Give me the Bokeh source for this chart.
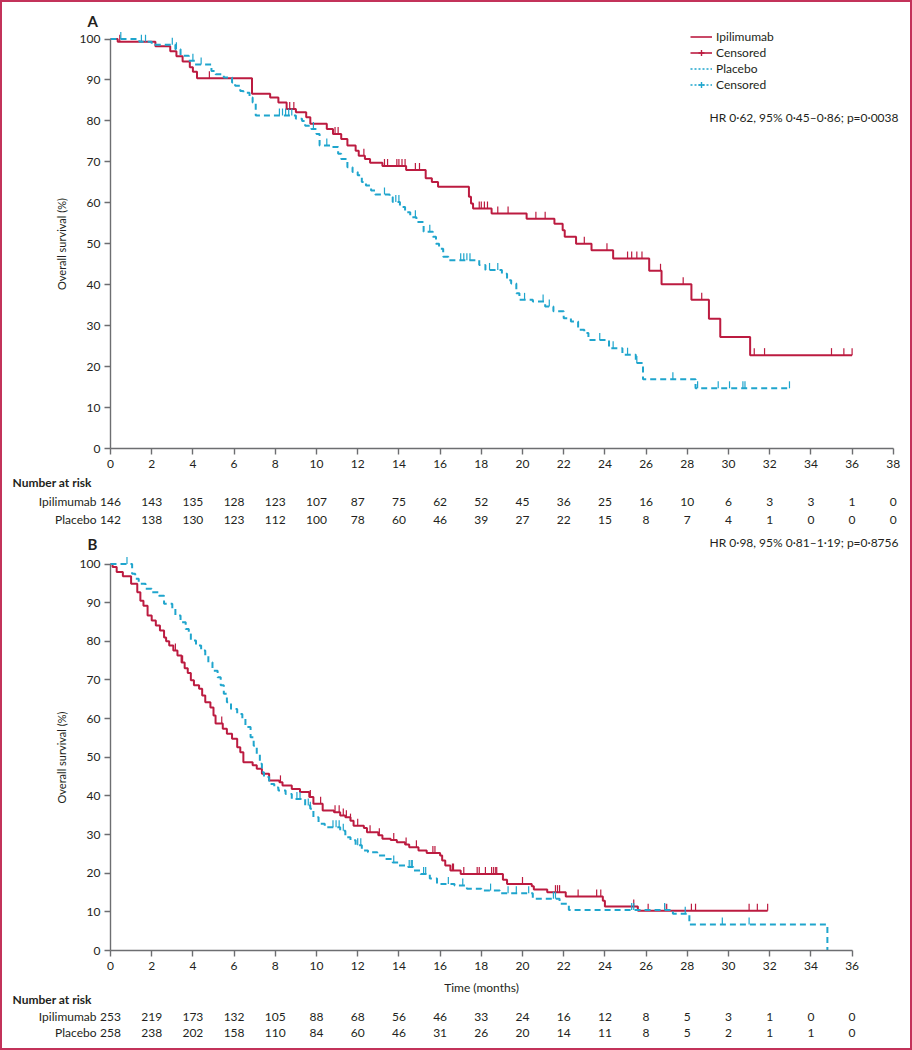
import numpy as np
from bokeh.plotting import figure
from bokeh.models import (Range1d, FixedTicker, Label, LabelSet, ColumnDataSource,
                          Legend, LegendItem)
from bokeh.layouts import column
from bokeh.embed import file_html
from bokeh.resources import INLINE
from bokeh.core.properties import value

# ---------------- Panel A data ----------------
a_ipi_t = [0, 0.35, 2.18, 2.9, 3.2, 3.5, 3.85, 4.0, 4.2, 6.87, 7.75, 8.15, 8.55, 9.0, 9.5, 9.7,
           10.5, 10.8, 11.2, 11.5, 11.9, 12.05, 12.35, 12.6, 13.2, 14.35, 15.3, 15.6, 15.9,
           17.4, 17.5, 17.6, 18.5, 20.2, 21.55, 21.95, 22.05, 22.6, 23.35, 24.4,
           26.15, 26.75, 28.2, 29.05, 29.6, 31.05]
a_ipi_s = [100, 99.3, 98.2, 97.0, 95.8, 94.5, 93.1, 92.0, 90.4, 86.6, 85.7, 84.5, 82.9, 82.1, 80.9, 79.3,
           78.0, 76.8, 75.6, 74.0, 72.7, 71.5, 70.7, 69.8, 69.0, 68.0, 66.0, 65.1, 63.9,
           61.5, 59.8, 58.6, 57.4, 56.1, 54.9, 53.3, 51.7, 50.0, 48.4, 46.4,
           43.4, 40.1, 36.3, 31.7, 27.2, 22.8]
a_ipi_cens = [0.45, 4.8, 8.7, 8.9, 10.9, 11.05, 12.3, 13.3, 13.45, 13.9, 14.0, 14.15, 14.3, 14.8,
              15.0, 17.9, 18.0, 18.15, 18.3, 18.8, 19.3, 20.65, 21.1, 23.0, 24.1, 25.1, 25.3,
              25.55, 25.8, 26.7, 27.8, 28.7, 31.25, 31.75, 35.0, 35.6, 36.0]
a_ipi_end = 36.0

a_pla_t = [0, 1.4, 2.0, 3.15, 3.4, 3.8, 4.1, 4.9, 5.1, 5.5, 5.9, 6.05, 6.3, 6.45, 6.75, 6.9, 7.05,
           9.0, 9.3, 9.45, 9.75, 10.0, 10.15, 10.8, 11.05, 11.2, 11.5, 11.75, 12.0, 12.2, 12.4,
           12.65, 12.85, 13.55, 13.7, 14.05, 14.3, 14.55, 14.85, 15.2, 15.65, 15.8, 15.95,
           16.15, 16.4, 17.9, 18.2, 19.0, 19.25, 19.45, 19.7, 19.85, 20.5, 21.1, 21.5, 22.0,
           22.35, 22.7, 23.0, 23.2, 24.2, 24.85, 25.5, 25.85, 28.4]
a_pla_s = [100, 99.3, 98.6, 97.5, 95.9, 94.7, 93.8, 92.2, 91.4, 90.6, 89.4, 88.6, 87.3, 86.9, 85.7,
           84.5, 81.3, 80.5, 80.0, 78.8, 78.0, 76.8, 74.0, 73.6, 72.0, 70.7, 68.7, 67.5, 66.7,
           65.1, 64.2, 63.0, 62.0, 61.4, 60.2, 59.0, 57.7, 56.5, 55.3, 52.9, 51.7, 50.0, 48.8,
           46.8, 46.0, 44.8, 43.6, 42.7, 41.1, 40.3, 37.9, 36.3, 35.9, 34.7, 33.5, 31.8, 31.0,
           29.0, 28.2, 26.5, 24.5, 22.9, 20.9, 16.9, 14.7]
a_pla_cens = [0.5, 1.5, 1.7, 3.0, 3.2, 4.0, 4.4, 8.2, 8.35, 8.5, 8.65, 8.8, 9.85, 10.5, 13.3,
              13.85, 14.0, 14.8, 15.5, 17.0, 17.15, 17.3, 17.45, 18.4, 18.8, 20.1, 21.0, 21.3,
              23.75, 24.4, 25.1, 25.55, 27.3, 28.5, 29.5, 30.05, 30.7, 30.8, 32.96]
a_pla_end = 32.96

risk_a_t = list(range(0, 39, 2))
risk_a_ipi = [146, 143, 135, 128, 123, 107, 87, 75, 62, 52, 45, 36, 25, 16, 10, 6, 3, 3, 1, 0]
risk_a_pla = [142, 138, 130, 123, 112, 100, 78, 60, 46, 39, 27, 22, 15, 8, 7, 4, 1, 0, 0, 0]

# ---------------- Panel B data ----------------
b_ipi_t = [0, 0.1, 0.3, 0.6, 1.0, 1.3, 1.45, 1.6, 1.8, 2.0, 2.2, 2.4, 2.6, 2.7, 2.85, 3.05, 3.25,
           3.45, 3.6, 3.75, 3.9, 4.05, 4.3, 4.45, 4.6, 4.85, 5.0, 5.1, 5.45, 5.65, 5.9, 6.15,
           6.3, 6.45, 6.9, 7.1, 7.35, 7.7, 8.2, 8.35, 8.8, 9.2, 9.65, 9.85, 10.3, 10.85, 11.15,
           11.4, 11.65, 11.8, 12.3, 12.45, 13.0, 13.2, 13.6, 13.9, 14.3, 14.5, 14.95, 15.35,
           16.0, 16.1, 16.25, 16.5, 17.0, 19.05, 19.25, 20.45, 20.55, 21.2, 22.1, 23.9, 24.0, 25.6]
b_ipi_s = [100, 99.2, 97.9, 96.8, 94.9, 92.7, 90.5, 89.2, 86.7, 85.4, 84.1, 82.8, 81.0, 80.0, 78.9,
           77.6, 76.3, 74.5, 73.0, 71.8, 69.9, 68.6, 67.7, 66.0, 64.2, 62.9, 60.8, 58.7, 57.4,
           56.1, 54.8, 52.6, 51.3, 48.7, 47.9, 47.0, 45.7, 44.0, 43.5, 42.7, 41.8, 41.0, 39.7,
           38.0, 36.2, 35.8, 34.9, 34.5, 33.6, 32.3, 31.7, 30.6, 29.8, 28.9, 28.6, 28.0, 27.4,
           26.7, 25.9, 25.2, 24.6, 23.3, 22.0, 20.7, 19.8, 18.3, 17.2, 16.6, 15.8, 15.1, 14.0,
           12.9, 11.4, 10.3]
b_ipi_cens = [3.15, 3.5, 5.4, 8.25, 9.7, 10.2, 10.9, 11.1, 11.3, 11.45, 11.65, 12.0, 12.6, 13.05,
              13.75, 14.35, 14.85, 15.65, 15.75, 16.6, 16.65, 17.15, 17.8, 17.9, 18.2, 18.5, 18.6,
              18.7, 18.75, 20.0, 21.6, 21.7, 21.8, 22.7, 23.6, 23.8, 25.4, 26.1, 26.9, 27.0, 28.2,
              28.4, 31.0, 31.4, 31.9]
b_ipi_end = 31.9

b_pla_t = [0, 1.05, 1.2, 1.37, 1.7, 2.0, 2.35, 2.6, 3.0, 3.15, 3.4, 3.65, 3.8, 3.9, 4.15, 4.4, 4.6,
           4.75, 4.95, 5.2, 5.35, 5.5, 5.65, 5.85, 6.15, 6.4, 6.55, 6.8, 6.95, 7.1, 7.25, 7.35,
           7.45, 7.7, 7.95, 8.15, 8.5, 8.8, 9.45, 9.7, 9.85, 10.1, 10.4, 11.15, 11.4, 11.65,
           11.9, 12.2, 12.5, 12.95, 13.35, 13.7, 14.0, 14.45, 14.7, 15.05, 15.5, 15.85, 16.7,
           17.3, 18.0, 18.9, 20.5, 21.8, 22.25, 27.3, 28.1, 34.8]
b_pla_s = [100, 97.5, 96.2, 94.9, 93.6, 92.7, 91.8, 89.7, 88.4, 86.7, 84.9, 83.2, 81.9, 80.2, 78.9,
           77.6, 76.3, 74.6, 72.4, 70.7, 68.6, 66.4, 64.2, 62.5, 61.2, 59.9, 57.8, 55.2, 53.0,
           50.9, 48.3, 46.1, 44.9, 43.1, 42.2, 41.4, 40.5, 39.2, 37.5, 36.7, 34.5, 32.8, 31.9,
           31.0, 29.3, 28.5, 27.2, 25.9, 25.4, 24.6, 23.7, 22.8, 22.0, 21.6, 20.7, 19.8, 18.6,
           17.2, 16.8, 16.0, 15.5, 14.8, 13.4, 12.1, 10.5, 9.5, 6.7, 0]
b_pla_cens = [0.8, 9.05, 9.2, 9.6, 9.7, 10.8, 10.95, 11.1, 11.3, 12.0, 12.15, 13.75, 14.5, 14.6,
              14.65, 15.2, 15.3, 16.4, 17.1, 18.45, 19.3, 19.7, 20.3, 21.5, 21.6, 25.3, 25.4,
              26.9, 27.9, 29.7, 31.0]
b_pla_end = 34.8

risk_b_t = list(range(0, 37, 2))
risk_b_ipi = [253, 219, 173, 132, 105, 88, 68, 56, 46, 33, 24, 16, 12, 8, 5, 3, 1, 0, 0]
risk_b_pla = [258, 238, 202, 158, 110, 84, 60, 46, 31, 26, 20, 14, 11, 8, 5, 2, 1, 1, 0]

arm_names = ["Ipilimumab", "Placebo"]
hr_a = "HR 0·62, 95% 0·45–0·86; p=0·0038"
hr_b = "HR 0·98, 95% 0·81–1·19; p=0·8756"

# ---------------- styling / layout ----------------
RED = "#bc1b40"
CYAN = "#1fa5cd"
TXT = "#231f20"
AX = "#6d6e71"
FONT = "Lato"
CDASH = "6 4"
FIG_W = 908
X0_PX = 108      # pixel of t = 0 inside each figure
PX_PER_T = 20.6  # pixels per month


def surv_at(ts, ss, tq):
    ts = np.asarray(ts, dtype=float)
    ss = np.asarray(ss, dtype=float)
    idx = np.searchsorted(ts, np.asarray(tq, dtype=float), side="right") - 1
    return ss[idx]


def txt(p, x, y, text, align="left", size="12px", style="normal"):
    p.add_layout(Label(x=x, y=y, x_units="screen", y_units="screen", text=text,
                       text_font=FONT, text_font_size=size, text_font_style=style,
                       text_color=TXT, text_baseline="middle", text_align=align))


def make_panel(height, top100, bottom0, tmax, curves, risk_t, risk_rows, letter, hr,
               xlabel, legend, rows_y, nar_y):
    ppp = (bottom0 - top100) / 100.0
    yr = Range1d(-(height - bottom0) / ppp, 100 + top100 / ppp)
    xr = Range1d(-X0_PX / PX_PER_T, (FIG_W - X0_PX) / PX_PER_T)
    p = figure(width=FIG_W, height=height, x_range=xr, y_range=yr,
               output_backend="svg", toolbar_location=None,
               min_border_left=0, min_border_right=0, min_border_top=0, min_border_bottom=0)
    p.outline_line_color = None
    p.xgrid.visible = False
    p.ygrid.visible = False
    p.background_fill_color = "white"
    p.border_fill_color = "white"

    p.xaxis.fixed_location = 0
    p.yaxis.fixed_location = 0
    p.xaxis.bounds = (0, tmax)
    p.yaxis.bounds = (0, 100)
    p.xaxis.ticker = FixedTicker(ticks=list(range(0, int(tmax) + 1, 2)))
    p.yaxis.ticker = FixedTicker(ticks=list(range(0, 101, 10)))
    for ax in (p.xaxis[0], p.yaxis[0]):
        ax.axis_line_color = AX
        ax.axis_line_width = 1.4
        ax.major_tick_line_color = AX
        ax.major_tick_line_width = 1.4
        ax.major_tick_out = 6
        ax.major_tick_in = 0
        ax.minor_tick_line_color = None
        ax.major_label_text_font = FONT
        ax.major_label_text_font_size = "12px"
        ax.major_label_text_color = TXT
        ax.axis_label_text_font = FONT
        ax.axis_label_text_font_style = "normal"
        ax.axis_label_text_color = TXT
    p.xaxis.major_label_standoff = 5
    p.yaxis.major_label_standoff = 4
    p.yaxis.axis_label = "Overall survival (%)"
    p.yaxis.axis_label_text_font_size = "11px"
    p.yaxis.axis_label_standoff = 9
    if xlabel:
        p.xaxis.axis_label = xlabel
        p.xaxis.axis_label_text_font_size = "12px"
        p.xaxis.axis_label_standoff = 7

    items = []
    for (ts, ss, cens, end, color, dash, leg_dash, name) in curves:
        xs = list(ts) + [end]
        ys = list(ss) + [ss[-1]]
        r_line = p.step(x=xs, y=ys, mode="after", line_color=color, line_width=2,
                        line_dash=dash)
        # hidden copy used only for the legend swatch (legend uses a finer dash)
        r_key = p.step(x=xs, y=ys, mode="after", line_color=color, line_width=1.6,
                       line_dash=leg_dash, visible=False)
        cy = surv_at(ts, ss, cens)
        p.ray(x=cens, y=cy, length=7, length_units="screen", angle=np.pi / 2,
              line_color=color, line_width=1.2)
        r_leg = p.scatter(x=cens, y=cy, marker="cross", size=0, line_color=color,
                          line_width=1.4)
        items.append(LegendItem(label=name, renderers=[r_key]))
        items.append(LegendItem(label="Censored", renderers=[r_key, r_leg]))

    if legend:
        lg = Legend(items=items, location=(688, height - 90), orientation="vertical",
                    glyph_width=22, glyph_height=15, label_height=15, spacing=1,
                    padding=0, margin=0, label_standoff=4,
                    label_text_font=FONT, label_text_font_size="12px",
                    label_text_color=TXT, border_line_color=None,
                    background_fill_alpha=0)
        p.add_layout(lg)

    # panel letter and HR text (screen units from the figure's bottom-left)
    txt(p, 85, letter[1], letter[0], size="15px", style="bold")
    txt(p, 896, hr[1], hr[0], align="right")

    # number at risk table
    txt(p, 10, nar_y, "Number at risk", style="bold")
    for name, vals, ry in zip(arm_names, risk_rows, rows_y):
        txt(p, 94, ry, name, align="right")
        src = ColumnDataSource(dict(t=risk_t, n=[str(v) for v in vals]))
        p.add_layout(LabelSet(x="t", y=ry, y_units="screen", text="n", source=src,
                              text_font=value(FONT), text_font_size=value("12px"),
                              text_color=TXT, text_baseline="middle", text_align="center"))
    return p


pA = make_panel(530, 36.5, 446, 38,
                [(a_ipi_t, a_ipi_s, a_ipi_cens, a_ipi_end, RED, "solid", "solid", "Ipilimumab"),
                 (a_pla_t, a_pla_s, a_pla_cens, a_pla_end, CYAN, CDASH, "2 2", "Placebo")],
                risk_a_t, [risk_a_ipi, risk_a_pla], ("A", 512), (hr_a, 415),
                None, True, [31, 13], 50)

pB = make_panel(516, 31.5, 418, 36,
                [(b_ipi_t, b_ipi_s, b_ipi_cens, b_ipi_end, RED, "solid", "solid", "Ipilimumab"),
                 (b_pla_t, b_pla_s, b_pla_cens, b_pla_end, CYAN, CDASH, "2 2", "Placebo")],
                risk_b_t, [risk_b_ipi, risk_b_pla], ("B", 505), (hr_b, 506),
                "Time (months)", False, [32, 16], 49)

layout = column(pA, pB, styles={"border": "2px solid #c3325a"})

open("out.html", "w").write(file_html(layout, INLINE))
